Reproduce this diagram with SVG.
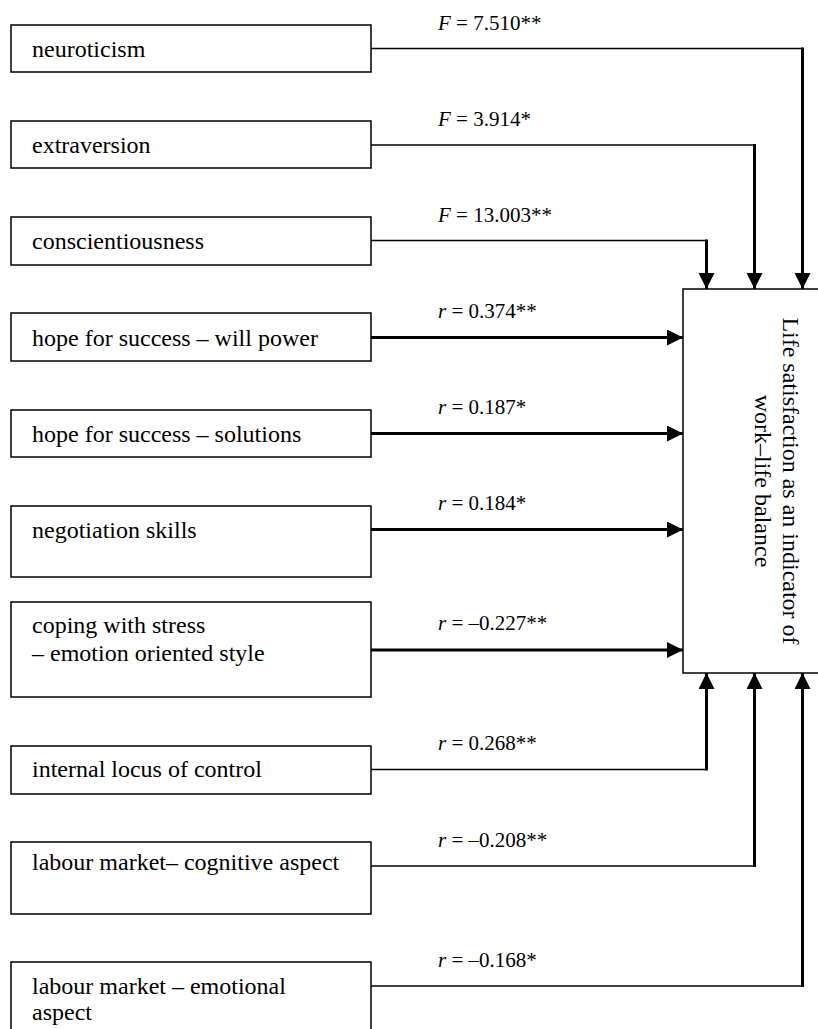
<svg xmlns="http://www.w3.org/2000/svg" width="818" height="1029" viewBox="0 0 818 1029">
<style>
  .box{fill:#fff;stroke:#000;stroke-width:1.5}
  .t{font-family:"Liberation Serif","Times New Roman",serif;font-size:24px;fill:#000}
  .lbl{font-family:"Liberation Serif","Times New Roman",serif;font-size:21px;fill:#000}
  .thin{fill:none;stroke:#000;stroke-width:1.5}
  .thick{fill:none;stroke:#000;stroke-width:3}
</style>
<defs>
  <marker id="ah" markerUnits="userSpaceOnUse" markerWidth="17" markerHeight="17" refX="16" refY="8" orient="auto" viewBox="0 0 17 17">
    <path d="M0,0 L16,8 L0,16 z" fill="#000"/>
  </marker>
</defs>

<g id="target">
  <rect class="box" x="683" y="289" width="140" height="384"/>
  <text class="t" transform="translate(783,481) rotate(90)" text-anchor="middle">Life satisfaction as an indicator of</text>
  <text class="t" transform="translate(755,481) rotate(90)" text-anchor="middle">work–life balance</text>
</g>

<g id="n1"><rect class="box" x="11" y="25" width="360" height="47"/><text class="t" x="32" y="57">neuroticism</text></g>
<g id="n2"><rect class="box" x="11" y="121" width="360" height="47"/><text class="t" x="32" y="153">extraversion</text></g>
<g id="n3"><rect class="box" x="11" y="217" width="360" height="48"/><text class="t" x="32" y="249">conscientiousness</text></g>
<g id="n4"><rect class="box" x="11" y="313" width="360" height="48"/><text class="t" x="32" y="346">hope for success – will power</text></g>
<g id="n5"><rect class="box" x="11" y="410" width="360" height="47"/><text class="t" x="32" y="442">hope for success – solutions</text></g>
<g id="n6"><rect class="box" x="11" y="506" width="360" height="71"/><text class="t" x="32" y="538">negotiation skills</text></g>
<g id="n7"><rect class="box" x="11" y="602" width="360" height="95"/><text class="t" x="32" y="633">coping with stress</text><text class="t" x="32" y="661">– emotion oriented style</text></g>
<g id="n8"><rect class="box" x="11" y="746" width="360" height="48"/><text class="t" x="32" y="777">internal locus of control</text></g>
<g id="n9"><rect class="box" x="11" y="842" width="360" height="72"/><text class="t" x="32" y="870">labour market– cognitive aspect</text></g>
<g id="n10"><rect class="box" x="11" y="962" width="360" height="90"/><text class="t" x="32" y="994">labour market – emotional</text><text class="t" x="32" y="1020">aspect</text></g>

<g id="connectors">
  <line class="thin" x1="371" y1="48.5" x2="803" y2="48.5"/>
  <path class="thick" d="M802.5,47.5 V289" marker-end="url(#ah)"/>
  <line class="thin" x1="371" y1="145" x2="755" y2="145"/>
  <path class="thick" d="M754.5,144 V289" marker-end="url(#ah)"/>
  <line class="thin" x1="371" y1="240.5" x2="707" y2="240.5"/>
  <path class="thick" d="M706.5,239.5 V289" marker-end="url(#ah)"/>

  <path class="thick" d="M371,337.5 H683" marker-end="url(#ah)"/>
  <path class="thick" d="M371,433.5 H683" marker-end="url(#ah)"/>
  <path class="thick" d="M371,529.5 H683" marker-end="url(#ah)"/>
  <path class="thick" d="M371,650 H683" marker-end="url(#ah)"/>

  <line class="thin" x1="371" y1="769.5" x2="707" y2="769.5"/>
  <path class="thick" d="M706.5,770.5 V673" marker-end="url(#ah)"/>
  <line class="thin" x1="371" y1="866" x2="755" y2="866"/>
  <path class="thick" d="M754.5,867 V673" marker-end="url(#ah)"/>
  <line class="thin" x1="371" y1="986" x2="803" y2="986"/>
  <path class="thick" d="M802.5,987 V673" marker-end="url(#ah)"/>

  <text class="lbl" x="438" y="30"><tspan font-style="italic">F</tspan> = 7.510**</text>
  <text class="lbl" x="438" y="126"><tspan font-style="italic">F</tspan> = 3.914*</text>
  <text class="lbl" x="438" y="222"><tspan font-style="italic">F</tspan> = 13.003**</text>
  <text class="lbl" x="438" y="318"><tspan font-style="italic">r</tspan> = 0.374**</text>
  <text class="lbl" x="438" y="414"><tspan font-style="italic">r</tspan> = 0.187*</text>
  <text class="lbl" x="438" y="510"><tspan font-style="italic">r</tspan> = 0.184*</text>
  <text class="lbl" x="438" y="630"><tspan font-style="italic">r</tspan> = –0.227**</text>
  <text class="lbl" x="438" y="750"><tspan font-style="italic">r</tspan> = 0.268**</text>
  <text class="lbl" x="438" y="847"><tspan font-style="italic">r</tspan> = –0.208**</text>
  <text class="lbl" x="438" y="967"><tspan font-style="italic">r</tspan> = –0.168*</text>
</g>
</svg>
